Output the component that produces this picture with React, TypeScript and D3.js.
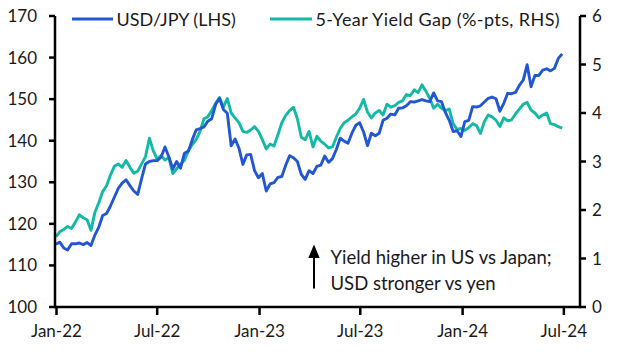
import * as d3 from "d3";

// weekly (Friday) observations, first one on 31 Dec 2021
const firstObs = new Date(2021, 11, 31);

const usdJpy = [
  115.1, 115.6, 114.2, 113.7, 115.2, 115.2, 115.4, 115.0, 115.5, 114.8,
  117.3, 119.2, 122.0, 122.5, 124.3, 126.4, 128.5, 129.8, 130.6, 129.2,
  127.9, 127.1, 130.9, 134.4, 135.0, 135.2, 135.2, 136.1, 138.5, 136.1,
  133.2, 135.0, 133.4, 137.0, 137.5, 140.2, 142.6, 142.9, 143.3, 144.7,
  145.3, 148.7, 150.2, 147.5, 146.6, 138.8, 140.4, 138.2, 134.3, 136.6,
  136.7, 132.8, 131.1, 132.1, 127.9, 129.6, 129.9, 131.2, 131.4, 134.1,
  136.4, 135.9, 135.0, 131.9, 130.7, 132.8, 132.1, 133.8, 134.1, 136.3,
  134.8, 135.7, 137.9, 140.6, 139.9, 139.4, 141.8, 143.7, 144.3, 142.1,
  138.8, 141.8, 141.2, 141.8, 144.9, 145.4, 146.4, 146.2, 147.8, 147.9,
  148.4, 149.4, 149.3, 149.6, 149.9, 149.6, 149.4, 151.5, 149.6, 149.4,
  146.8, 144.9, 142.2, 142.4, 141.0, 144.6, 144.9, 148.2, 148.1, 148.4,
  149.3, 150.2, 150.5, 150.1, 147.1, 149.0, 151.4, 151.3, 151.6, 153.3,
  154.6, 158.3, 153.0, 155.7, 155.7, 157.0, 157.3, 156.8, 157.4, 159.8,
  160.9,
];

const yieldGap = [
  1.45, 1.55, 1.60, 1.66, 1.62, 1.75, 1.90, 1.84, 1.80, 1.58,
  1.95, 2.15, 2.38, 2.50, 2.72, 2.90, 2.95, 2.88, 3.02, 2.88,
  2.76, 2.80, 2.95, 3.10, 3.48, 3.22, 3.05, 3.12, 3.03, 3.08,
  2.75, 2.85, 2.95, 3.02, 3.22, 3.35, 3.45, 3.62, 3.88, 3.92,
  4.05, 4.20, 4.32, 4.12, 4.30, 4.00, 3.90, 3.80, 3.62, 3.60,
  3.65, 3.72, 3.62, 3.45, 3.26, 3.36, 3.32, 3.55, 3.80, 3.95,
  4.05, 4.12, 3.88, 3.50, 3.45, 3.62, 3.30, 3.52, 3.42, 3.36,
  3.28, 3.30, 3.50, 3.68, 3.80, 3.85, 3.92, 3.98, 4.10, 4.28,
  4.02, 3.90, 4.00, 4.05, 3.96, 4.18, 4.12, 4.15, 4.22, 4.25,
  4.38, 4.36, 4.48, 4.42, 4.58, 4.45, 4.30, 4.10, 4.18, 4.10,
  4.05, 4.08, 3.78, 3.66, 3.68, 3.64, 3.70, 3.78, 3.74, 3.58,
  3.82, 3.96, 3.92, 3.85, 3.72, 3.90, 3.84, 3.86, 3.98, 4.08,
  4.18, 4.22, 4.06, 4.00, 3.90, 3.96, 4.00, 3.78, 3.76, 3.72,
  3.69,
];

const leftTicks = [100, 110, 120, 130, 140, 150, 160, 170];
const rightTicks = [0, 1, 2, 3, 4, 5, 6];
const xTickDates = ["2022-01-01", "2022-07-01", "2023-01-01", "2023-07-01", "2024-01-01", "2024-07-01"];
const xTickLabels = ["Jan-22", "Jul-22", "Jan-23", "Jul-23", "Jan-24", "Jul-24"];
const legendNames = ["USD/JPY (LHS)", "5-Year Yield Gap (%-pts, RHS)"];
const noteLines = ["Yield higher in US vs Japan;", "USD stronger vs yen"];

const BLUE = "#2356d2";
const TEAL = "#14b9a5";
const FONT = "Lato, 'Open Sans', sans-serif";

export default function App() {
  const W = 623, H = 352;
  const left = 55, right = 580, top = 16, bottom = 307;

  const x = d3.scaleTime().domain([new Date(2022, 0, 1), new Date(2024, 6, 30)]).range([56.5, right]);
  const yL = d3.scaleLinear().domain([100, 170]).range([bottom, top]);
  const yR = d3.scaleLinear().domain([0, 6]).range([bottom, top]);

  const dates = usdJpy.map((_, i) => d3.timeDay.offset(firstObs, i * 7));
  const lineL = d3.line<number>().x((_, i) => x(dates[i])).y((d) => yL(d));
  const lineR = d3.line<number>().x((_, i) => x(dates[i])).y((d) => yR(d));
  const parse = d3.timeParse("%Y-%m-%d");

  return (
    <svg width={W} height={H} style={{ position: "absolute", left: 0, top: 0, background: "#fff" }} fontFamily={FONT}>
      <path d={lineR(yieldGap) ?? ""} fill="none" stroke={TEAL} strokeWidth={2.9} strokeLinejoin="round" />
      <path d={lineL(usdJpy) ?? ""} fill="none" stroke={BLUE} strokeWidth={2.9} strokeLinejoin="round" />

      {/* axes */}
      <line x1={left} x2={left} y1={top} y2={bottom + 1} stroke="#000" strokeWidth={2.5} />
      <line x1={right} x2={right} y1={top} y2={bottom + 1} stroke="#000" strokeWidth={2.5} />
      <line x1={left - 1} x2={right + 1} y1={bottom} y2={bottom} stroke="#000" strokeWidth={2.5} />

      {leftTicks.map((t) => (
        <g key={`l${t}`}>
          <line x1={left - 6} x2={left} y1={yL(t)} y2={yL(t)} stroke="#000" strokeWidth={2.5} />
          <text x={37} y={yL(t) + 6} textAnchor="end" fontSize={17} fill="#1a1a1a">{t}</text>
        </g>
      ))}
      {rightTicks.map((t) => (
        <g key={`r${t}`}>
          <line x1={right} x2={right + 6} y1={yR(t)} y2={yR(t)} stroke="#000" strokeWidth={2.5} />
          <text x={592} y={yR(t) + 6} textAnchor="start" fontSize={17} fill="#1a1a1a">{t}</text>
        </g>
      ))}
      {xTickDates.map((d, i) => {
        const px = x(parse(d)!);
        return (
          <g key={d}>
            <line x1={px} x2={px} y1={bottom} y2={bottom + 8} stroke="#000" strokeWidth={2.5} />
            <text x={px} y={337} textAnchor="middle" fontSize={17} fill="#1a1a1a">{xTickLabels[i]}</text>
          </g>
        );
      })}

      {/* legend */}
      <line x1={72} x2={113} y1={19} y2={19} stroke={BLUE} strokeWidth={3} />
      <text x={116.5} y={25.5} fontSize={18} fill="#1a1a1a">{legendNames[0]}</text>
      <line x1={270} x2={312} y1={19} y2={19} stroke={TEAL} strokeWidth={3} />
      <text x={315.5} y={25.5} fontSize={18} letterSpacing={0.4} fill="#1a1a1a">{legendNames[1]}</text>

      {/* annotation */}
      <line x1={314} x2={314} y1={288.5} y2={256} stroke="#000" strokeWidth={2} />
      <path d="M308.3,258 L314,244.5 L319.7,258 Z" fill="#000" />
      {noteLines.map((s, i) => (
        <text key={s} x={330.5} y={264 + i * 25.5} fontSize={18.5} fill="#1a1a1a">{s}</text>
      ))}
    </svg>
  );
}
